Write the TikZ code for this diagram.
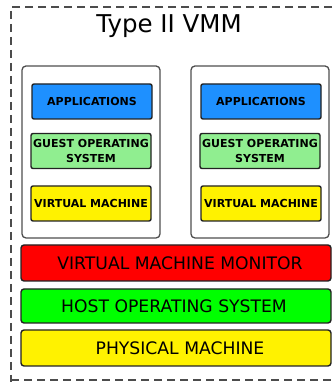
\documentclass[tikz,border=0pt]{standalone}
\usepackage{fontspec}
\setmainfont{DejaVu Sans}
\definecolor{appblue}{HTML}{1E90FF}
\definecolor{guestgreen}{HTML}{90EE90}
\definecolor{hostgreen}{HTML}{00FF00}
\definecolor{edgegray}{HTML}{222222}
\begin{document}
\begin{tikzpicture}[x=1pt,y=1pt,
  layer/.style={draw=edgegray, line width=1.4pt, rounded corners=3pt, minimum width=310pt, minimum height=35pt, inner sep=0pt, font=\fontsize{17.2}{19}\selectfont},
  vmpart/.style={draw=edgegray, line width=1.4pt, rounded corners=2pt, minimum width=120pt, minimum height=35pt, inner sep=0pt, align=center, font=\bfseries\fontsize{11}{15}\selectfont},
  vmbox/.style={draw=edgegray!80, line width=1.3pt, rounded corners=4pt, minimum width=138pt, minimum height=172pt, inner sep=0pt},
  frame/.style={gray!60!black, line width=1.8pt, dash pattern=on 8pt off 5pt}
]
\useasboundingbox (0,0) rectangle (332,382);
% outer dashed frame (runs off the right edge)
\draw[frame] (332,375) -- (11,375) -- (11,0);
\draw[frame] (11,2) -- (332,2);
\node[font=\fontsize{24.5}{27}\selectfont] (title) at (169,356) {Type II VMM};

% guest virtual machines
\node[vmbox] (vmA) at (91,230) {};
\node[vmbox] (vmB) at (260,230) {};

\node[vmpart, fill=appblue] (appA) at (92,280.5) {APPLICATIONS};
\node[vmpart, fill=guestgreen] (osA) at (91,231) {GUEST OPERATING\\SYSTEM};
\node[vmpart, fill=yellow] (hwA) at (91,178.5) {VIRTUAL MACHINE};

\node[vmpart, fill=appblue] (appB) at (261,280.5) {APPLICATIONS};
\node[vmpart, fill=guestgreen] (osB) at (260,231) {GUEST OPERATING\\SYSTEM};
\node[vmpart, fill=yellow] (hwB) at (261,178.5) {VIRTUAL MACHINE};

% host stack
\node[layer, fill=red, minimum height=36pt] (vmm) at (176,119) {};
\node[layer, fill=hostgreen, minimum height=34pt] (host) at (176,76) {};
\node[layer, fill=yellow, minimum height=36pt] (phys) at (176,34) {};
\node[font=\fontsize{17.2}{19}\selectfont] (vmmtext) at ([xshift=4pt]vmm.center) {VIRTUAL MACHINE MONITOR};
\node[font=\fontsize{17.2}{19}\selectfont] (hosttext) at ([xshift=-2pt]host.center) {HOST OPERATING SYSTEM};
\node[font=\fontsize{17.2}{19}\selectfont] (phystext) at ([xshift=4pt]phys.center) {PHYSICAL MACHINE};
\end{tikzpicture}
\end{document}
